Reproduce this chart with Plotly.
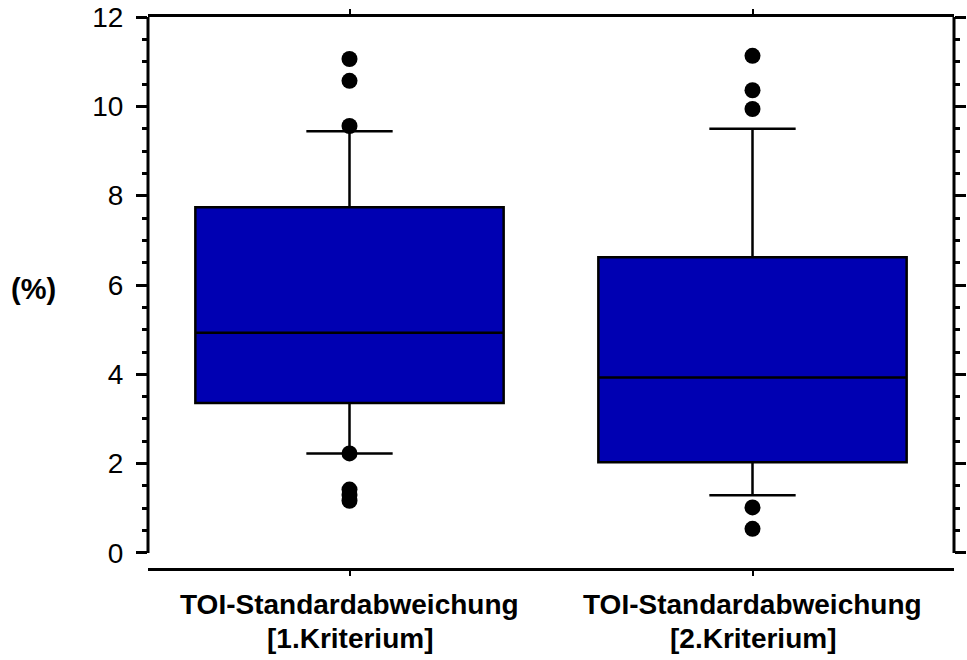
import plotly.graph_objects as go

categories = ["TOI-Standardabweichung [1.Kriterium]", "TOI-Standardabweichung [2.Kriterium]"]
label_line1 = ["TOI-Standardabweichung", "TOI-Standardabweichung"]
label_line2 = ["[1.Kriterium]", "[2.Kriterium]"]
q1 = [3.36, 2.03]
median = [4.93, 3.93]
q3 = [7.74, 6.62]
lower_whisker = [2.23, 1.29]
upper_whisker = [9.44, 9.50]

outlier_cat = [categories[0]] * 7 + [categories[1]] * 5
outlier_val = [11.06, 10.57, 9.56, 2.23, 1.42, 1.30, 1.17,
               11.13, 10.36, 9.94, 1.02, 0.54]

y_ticks = [0, 2, 4, 6, 8, 10, 12]

FONT = "Liberation Sans, Arial"

fig = go.Figure()
fig.add_trace(go.Box(
    x=categories, q1=q1, median=median, q3=q3,
    lowerfence=lower_whisker, upperfence=upper_whisker,
    fillcolor="#0000B2", line=dict(color="black", width=2.5),
    width=0.765, whiskerwidth=0.28, boxpoints=False, showlegend=False,
))
fig.add_trace(go.Scatter(
    x=outlier_cat, y=outlier_val, mode="markers",
    marker=dict(color="black", size=16, symbol="circle"), showlegend=False,
))

# left / right axis lines only spanning 0..12
for xp in (0, 1):
    fig.add_shape(type="line", xref="paper", yref="y", x0=xp, x1=xp, y0=0, y1=12,
                  line=dict(color="black", width=3))

# category labels (two lines each)
for cat, l1, l2 in zip(categories, label_line1, label_line2):
    fig.add_annotation(text="<b>%s</b>" % l1, xref="x", yref="paper", x=cat, y=-0.067,
                       xanchor="center", yanchor="middle", showarrow=False, borderpad=0,
                       font=dict(family=FONT, size=28, color="black"))
    fig.add_annotation(text="<b>%s</b>" % l2, xref="x", yref="paper", x=cat, y=-0.128,
                       xanchor="center", yanchor="middle", showarrow=False, borderpad=0,
                       font=dict(family=FONT, size=28, color="black"))

fig.add_annotation(text="<b>(%)</b>", xref="paper", yref="paper", x=-0.142, y=0.506,
                   xanchor="center", yanchor="middle", showarrow=False,
                   font=dict(family=FONT, size=29, color="black"))

fig.update_layout(
    width=967, height=660,
    margin=dict(l=148, r=13, t=17, b=92, autoexpand=False),
    plot_bgcolor="white", paper_bgcolor="white",
    font=dict(family=FONT, color="black"),
    xaxis=dict(type="category", range=[-0.5, 1.5], showline=True, linecolor="black", linewidth=3,
               mirror="ticks", ticks="outside", ticklen=5, tickwidth=2, tickcolor="black",
               showgrid=False, zeroline=False, showticklabels=False, automargin=False),
    yaxis=dict(range=[-0.336, 12], tickvals=y_ticks, ticks="outside", ticklen=11, tickwidth=2.5,
               tickcolor="black", mirror="ticks", showline=False, showgrid=False, zeroline=False,
               tickfont=dict(size=28, color="black", family=FONT), ticklabelstandoff=7,
               automargin=False,
               minor=dict(dtick=0.5, tick0=0, ticks="outside", ticklen=5, tickwidth=2.5,
                          tickcolor="black", showgrid=False)),
)

fig.write_html("out.html")
